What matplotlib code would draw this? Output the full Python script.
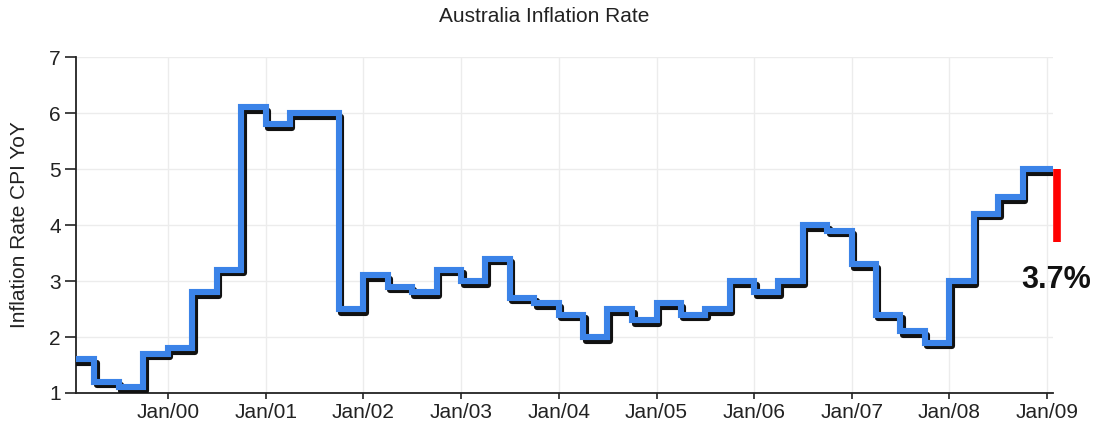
import pandas as pd
import matplotlib
matplotlib.use('Agg')
import matplotlib.pyplot as plt
import matplotlib.dates as mdates
import matplotlib.transforms as mtransforms

plt.rcParams['font.family'] = ['Liberation Sans', 'DejaVu Sans']

# Quarterly CPI YoY (%), step starts at the start of each quarter
quarters = pd.date_range('1999-01-01', '2008-10-01', freq='QS')
inflation = [1.6, 1.2, 1.1, 1.7,
             1.8, 2.8, 3.2, 6.1,
             5.8, 6.0, 6.0, 2.5,
             3.1, 2.9, 2.8, 3.2,
             3.0, 3.4, 2.7, 2.6,
             2.4, 2.0, 2.5, 2.3,
             2.6, 2.4, 2.5, 3.0,
             2.8, 3.0, 4.0, 3.9,
             3.3, 2.4, 2.1, 1.9,
             3.0, 4.2, 4.5, 5.0]
latest_value = 3.7
window_start = pd.Timestamp('1999-01-22')
window_end = pd.Timestamp('2009-01-22')

x = list(quarters) + [window_end]
y = inflation + [inflation[-1]]

fig = plt.figure(figsize=(10.95, 4.26), dpi=100)
ax = fig.add_axes([0.0694, 0.0775, 0.8922, 0.7885])

# shadow line offset a few pixels right/down
shadow = mtransforms.offset_copy(ax.transData, fig=fig, x=2.5, y=-3.5, units='dots')
ax.step(x, y, where='post', color='#111111', lw=4.4, transform=shadow,
        solid_joinstyle='round', solid_capstyle='round', zorder=3)
ax.step(x, y, where='post', color='#3b83e8', lw=4.4,
        solid_joinstyle='miter', solid_capstyle='butt', zorder=4)

# latest change in red
red_tr = mtransforms.offset_copy(ax.transData, fig=fig, x=4, y=0, units='dots')
ax.plot([window_end, window_end], [inflation[-1], latest_value], color='#ff0000',
        lw=5.5, transform=red_tr, clip_on=False, zorder=5, solid_capstyle='butt')
ax.annotate(f'{latest_value}%', xy=(window_end, latest_value), xytext=(2, -17),
            textcoords='offset points', ha='center', va='top',
            fontsize=22, fontweight='bold', color='#111111', annotation_clip=False)

ax.set_xlim(window_start, window_end)
ax.set_ylim(1, 7)
ax.set_yticks(range(1, 8))
ax.xaxis.set_major_locator(mdates.YearLocator())
ax.xaxis.set_major_formatter(mdates.DateFormatter('%b/%y'))

ax.grid(True, color='#ececec', lw=1)
ax.set_axisbelow(True)
for s in ['top', 'right']:
    ax.spines[s].set_visible(False)
for s in ['left', 'bottom']:
    ax.spines[s].set_linewidth(1.3)
    ax.spines[s].set_color('#222222')
ax.tick_params(axis='y', length=8, width=1.2, pad=3, labelsize=15, colors='#222222')
ax.tick_params(axis='x', length=4, width=1.2, pad=3, labelsize=15, colors='#222222')

ax.set_ylabel('Inflation Rate CPI YoY', fontsize=15, color='#222222')
ax.yaxis.set_label_coords(-0.048, 0.5)
fig.text(0.497, 0.948, 'Australia Inflation Rate', ha='center', va='baseline',
         fontsize=15, color='#222222')

fig.savefig('out.png', dpi=100)
